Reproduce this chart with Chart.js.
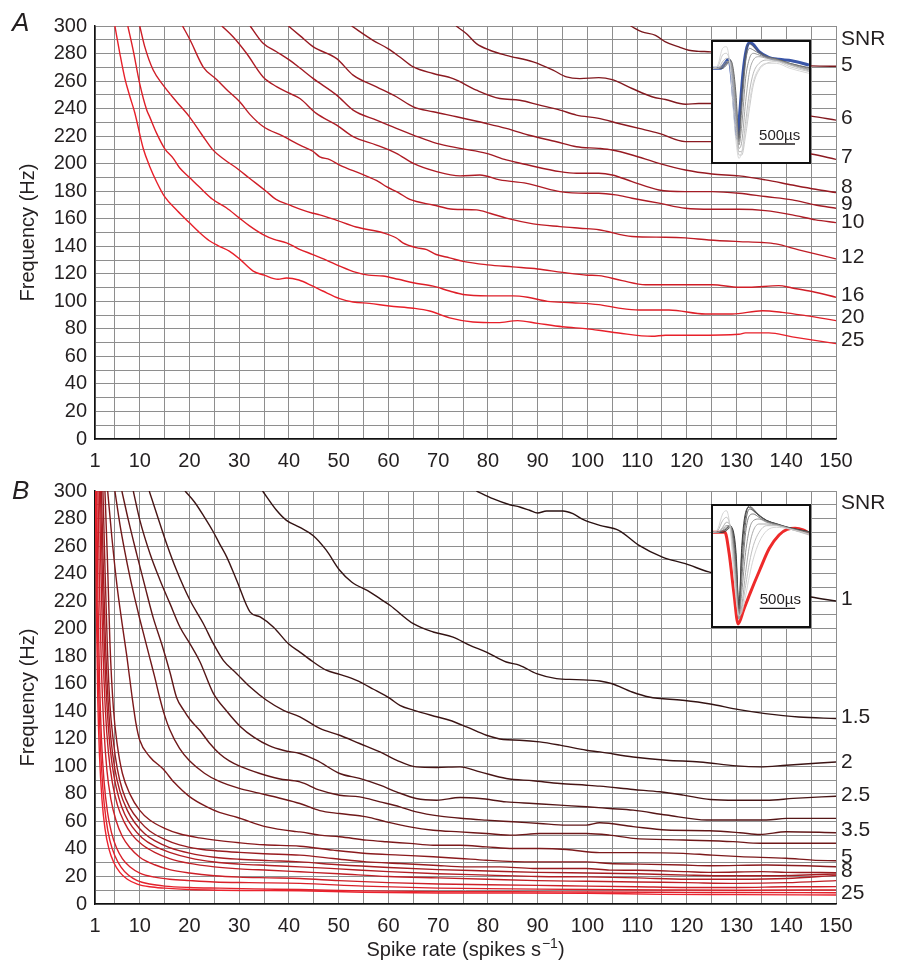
<!DOCTYPE html>
<html>
<head>
<meta charset="utf-8">
<script src="https://cdn.jsdelivr.net/npm/chart.js@4.4.1/dist/chart.umd.min.js"></script>
<style>
  body { margin: 0; background: #fff; }
  #page { position: relative; width: 898px; height: 965px; overflow: hidden; font-family: "Liberation Sans", Arial, sans-serif; }
  #chartA { position: absolute; left: 0; top: 0; }
  #chartB { position: absolute; left: 0; top: 470px; }
  .letter { position: absolute; left: 12px; font-size: 26px; line-height: 26px; font-style: italic; color: #231f20; }
  .inset { position: absolute; left: 711px; width: 96px; height: 120px; border: 2px solid #111; background: #fff; }
  .inset canvas { display: block; }
</style>
</head>
<body>
<div id="page">
  <canvas id="chartA" width="898" height="470"></canvas>
  <canvas id="chartB" width="898" height="495"></canvas>
  <div class="letter" style="top:9px">A</div>
  <div class="letter" style="top:477px">B</div>
  <div class="inset" style="top:40px"><canvas id="insetA" width="96" height="120"></canvas></div>
  <div class="inset" style="top:504px"><canvas id="insetB" width="96" height="120"></canvas></div>
</div>
<script>
// axis ticks
const xGrid = [1, 5, 10, 15, 20, 25, 30, 35, 40, 45, 50, 55, 60, 65, 70, 75, 80, 85, 90, 95, 100, 105, 110, 115, 120, 125, 130, 135, 140, 145, 150];
const xLabels = [1, 10, 20, 30, 40, 50, 60, 70, 80, 90, 100, 110, 120, 130, 140, 150];
const yGrid = [0, 10, 20, 30, 40, 50, 60, 70, 80, 90, 100, 110, 120, 130, 140, 150, 160, 170, 180, 190, 200, 210, 220, 230, 240, 250, 260, 270, 280, 290, 300];
const yLabels = [0, 20, 40, 60, 80, 100, 120, 140, 160, 180, 200, 220, 240, 260, 280, 300];

// panel A curves: [spike rate, frequency]
const snrA25 = [[5,300],[6,280],[7,262],[8,249],[9,237],[10.7,211],[12,198],[13.5,186],[15,176],[17.5,166],[20,157],[22,150],[24,144],[26,140],[28,136.5],[30,131],[32.8,122],[35,119],[37.8,116],[39.5,117],[42,115.5],[44.8,111],[46.8,107.5],[50.2,102],[52.9,99.5],[56.2,98.5],[60.2,96.6],[65,95],[68.3,93],[72.3,88],[77,85],[82,84.5],[86,86],[90,84],[95,81.5],[100,80],[102.3,79],[106.3,77],[113,74.6],[115.7,75.4],[121.7,75.4],[130.5,76.1],[131.8,77.1],[136.5,77.1],[141.2,74.2],[150,69.3]];
const snrA20 = [[7.6,300],[8.7,282],[10,258],[11.4,239],[12,234],[13.4,222],[15,211],[16.7,204],[18,197],[20,190],[22,183],[24.7,174],[27.4,168],[30,160.6],[32,155],[34.8,148.5],[37,145],[39.5,142.5],[42,138],[44.8,134],[47.5,130],[50.2,125.6],[53.5,121],[56,119],[58.9,118.4],[62,116],[65,113.5],[69,111],[72.3,107.5],[75,105],[80,104],[85,104],[88,103],[92,100],[97,99],[102.3,97.6],[106.3,95.1],[110.4,93.7],[116.4,93.7],[123.7,90.8],[129.1,90.8],[135.2,93.2],[139.2,92],[143.9,89.6],[150,86]];
const snrA16 = [[10,300],[11,285],[12.7,268],[14.7,257],[17.4,245],[20,234],[22.5,221],[24.7,210],[27,203],[29.4,197],[32,189.6],[35.4,180],[37.4,174],[40.1,170],[42.2,167],[44.8,164],[46.2,162.8],[49.5,159],[53.5,154],[58.9,149.8],[61.6,146],[62.9,142.5],[65.6,139],[67.7,137.5],[69.6,134],[72.3,131.6],[75,129],[80,126.5],[85,125],[90,123.5],[95,121],[100,119],[102.3,118.7],[107,115],[111.7,112.1],[125.1,112.1],[130.5,110.2],[132.5,110.2],[138.5,111.4],[141.2,109.7],[145.2,107.1],[150,103]];
const snrA12 = [[18.6,300],[20.1,290],[22.8,270],[25.5,261],[27.7,253],[30.1,245],[32.1,236],[34.8,227],[38.8,220],[42.2,213.5],[44.8,209],[46.2,205],[48.2,203],[50.2,199],[54.9,192],[58,187],[59.6,183.3],[62,179],[64.3,174],[69,170],[73,166.9],[77.7,166.4],[80.4,164],[83.7,160.4],[89.1,156.3],[94.5,154.3],[98.5,153.1],[102.3,152],[109,147.1],[115.7,146.6],[119.7,146.1],[124.4,144.6],[130.5,143.4],[135.2,142.7],[137.9,141.7],[142.5,137.4],[150,130.8]];
const snrA10 = [[26.5,300],[28.8,292],[31.5,280],[34.8,263],[37.5,256],[40.2,251],[42.2,247.3],[45.5,236.5],[49.6,228],[52.9,219.6],[57.6,213.5],[61.6,207.5],[65,200.2],[69.7,194.2],[74.4,191.1],[78.4,191.8],[82.4,188.2],[87.8,185.7],[90.4,183.3],[94.5,179.7],[99.8,178.5],[102.3,178.5],[105.7,177.3],[109,174.9],[114.4,171.3],[119.7,167.6],[125.1,166.9],[130.5,166.9],[135.8,165.9],[141.2,162.8],[145.9,159.2],[150,157.2]];
const snrA9 = [[32.2,300],[34.8,287.4],[37.5,281.3],[40.2,275],[42.2,269.5],[44.9,261.8],[49.6,249.8],[52.9,238.9],[57.6,231.6],[61.6,225.6],[65,220.8],[69.7,214.7],[74.4,211.1],[79.7,207.5],[83.7,202.7],[88.1,199],[94.5,194.2],[97.8,193],[102.3,193],[105,191.8],[109,187],[114.4,180.9],[119.7,179.7],[125.1,179.7],[130.5,178.5],[135.8,176.1],[141.2,173.7],[145.9,170],[150,167.6]];
const snrA8 = [[39.9,300],[42.2,293],[44.9,284.8],[49.6,276.3],[52.9,264.3],[57.6,255.8],[61.6,248.6],[65,241.3],[69,237.7],[73.7,234.1],[79.7,229.2],[83.7,225.6],[88.1,220.8],[93.8,215.9],[97.8,212.3],[102.3,211.1],[105,209.9],[109,206.3],[114.4,200.2],[119.7,195.4],[125.1,192.5],[130.5,191.1],[135.8,188.2],[141.2,184.5],[145.9,181.4],[150,179]];
const snrA7 = [[52.6,300],[56.9,289.6],[59.9,283.6],[62.3,277.5],[65,270.3],[69,265.5],[73,261.8],[77.7,253.4],[82.4,247.3],[86.4,246.1],[90.4,242.5],[94.5,238.9],[97.8,235.3],[102.3,232.9],[106.3,229.2],[110.4,225.6],[114.4,222],[119.7,216],[124.8,216],[135,212],[145,207],[150,203.1]];
const snrA6 = [[73.6,300],[75.7,294.4],[77.7,287.2],[80.4,282.4],[83.7,278.7],[89.1,273.9],[93.1,267.9],[95.8,263],[98.5,261.8],[102.3,262.5],[105,261],[109,254.6],[113,248.6],[115.7,246.6],[119.7,243.2],[122.4,243.7],[124.8,243.7],[135,239],[145,234.5],[150,231.6]];
const snrA5 = [[108.7,300],[111,295.7],[113.7,293.2],[115.7,288.4],[118.4,284.8],[120.4,282.4],[122.4,281.6],[124.8,281.2],[135,276],[145,271],[150,270.8]];

// panel B curves
const snrB1 = [[77.7,300],[81,294.4],[84.4,290],[86.4,288.4],[88.4,286],[90,284],[91.8,285.5],[95.1,285.5],[97.1,283.5],[99.2,279.2],[102.5,275],[106.3,271.4],[110.4,260.5],[115.1,252],[119.7,247.2],[124.4,241.2],[135,232],[145,223],[150,220.1]];
const snrB1_5 = [[34.7,300],[37.5,286],[39.5,278.7],[42.2,273.5],[44.9,267.5],[47.5,257],[50.2,242.4],[52.6,233.9],[56.3,226.6],[58.3,221.8],[60.3,217],[65,203.6],[69,197.6],[73,193.9],[76.4,187.9],[79.7,183],[83.7,175.8],[86.4,173.4],[89.8,167.3],[93.8,163.7],[97.8,163],[102.5,162],[105,160],[109,154],[112.4,150.4],[119.1,148],[124.4,145.5],[130.5,141.2],[135.8,138.3],[142.5,135.8],[150,134.7]];
const snrB2 = [[19.1,300],[21,292],[23,281],[24.8,270.2],[26,262],[27.5,252],[29.5,235],[32.2,212],[34.2,208.5],[36.9,201],[39.9,189],[42.2,183],[44.9,175.8],[47.5,169.8],[50.2,166.8],[53.6,162.5],[57,156],[60.3,149.3],[62.3,144.3],[65,140.8],[69.7,136],[72.3,133.5],[75.7,128.7],[79.7,122.6],[83.1,119.5],[86.4,119],[90.4,117.8],[94.5,115.4],[99.8,111.7],[102.5,110.5],[109.2,106.8],[115.9,104.4],[122.6,103.2],[130,100.3],[134.7,99.6],[140,100.8],[150,103.2]];
const snrB2_5 = [[11.9,300],[13.4,283.5],[15.4,261.7],[17.4,242.4],[20.1,220.6],[22.8,203.6],[24.8,189.1],[26.8,177],[29.5,167.3],[32.2,157.6],[35.5,148],[38.9,140.7],[42.2,136],[46.2,127.5],[50.2,122.6],[54.2,116.6],[58.3,110.5],[61.6,104.5],[65.6,99.6],[69.7,99.2],[74.4,99.6],[78.4,96],[83.7,91.2],[89.1,89.5],[94.5,87.5],[99.8,86.3],[102.5,85.6],[109.2,83.2],[114.6,81.5],[119.3,79.1],[124.7,75.9],[130,75.4],[136,75.4],[141.4,76.7],[150,78.3]];
const snrB3 = [[8.7,300],[10,279],[12.1,254],[14.1,235],[16.1,218],[18.1,201],[20.1,189],[22.1,176],[24.8,153],[27.5,140],[30.2,129],[33,121],[36,115],[39,111.5],[42.2,109.3],[45.5,104.5],[50.2,94.8],[54.2,91.2],[58.3,86.3],[61.6,81.5],[65.6,76.6],[69.7,75.4],[74.4,77.4],[78.4,76.6],[83.7,74.2],[89.1,73],[94.5,71.8],[99.8,70.6],[104.5,69.4],[109.2,68.2],[115.9,64.6],[124,61],[136,61],[140,62.2],[150,62.2]];
const snrB3_5 = [[6.4,300],[7.7,279],[9.4,254],[11.1,230],[12.7,208],[14.4,189],[16.1,168],[17.4,150],[18.8,141],[20.1,134],[22.1,126],[24,117],[26.1,109],[28,104],[30.2,100],[34,95],[38,91],[42.2,88.7],[46.2,82.7],[50.2,79],[54.2,77.8],[58.3,74.2],[62.3,70.6],[65.6,66.9],[70.4,63.8],[75,62.1],[79.7,60.9],[85.1,59.7],[90.4,58.5],[95.8,57.3],[99.8,57.3],[102.5,59],[109.2,56.2],[115.9,53.7],[124.6,53.2],[130.7,51.8],[134.7,50.5],[140,52.5],[150,51.8]];
const snrB4 = [[5,300],[6,276],[7,256],[8,238],[9,222],[10,207],[11,193],[12,179],[13,165],[14,150],[15,137],[16,127],[18,113],[20,104],[23,95],[26,89],[30,84],[34,80.5],[38,77],[42.2,73],[46.2,67.8],[50.2,65.7],[55.6,63.3],[59.6,59.7],[64.3,56],[69,53.6],[74.4,52.4],[79.7,51.2],[85.1,50],[90.4,51.2],[99.8,51.2],[104.5,50],[109.2,47.7],[119.3,46.5],[129.3,45.3],[134.7,44.1],[150,44.1]];
const snrB5 = [[3.55,300],[4.4,266],[5.4,232],[6.4,205],[7.4,180],[8.4,152],[9.2,132],[10,119],[12,107],[14.7,98],[17,88],[20,78],[23.5,70.5],[26,66.5],[29.5,63],[35.5,56],[40.9,52.8],[42.2,52.4],[46.2,50],[50.2,48.8],[55.6,46.4],[59.6,45.2],[64.3,44],[69,42.7],[74.4,42.7],[79.7,41.5],[85.1,40.3],[90.4,40.3],[95.8,39.6],[102.5,37.3],[109.2,37.3],[119.3,36.8],[124.6,35.6],[130.7,34.4],[140,33.2],[145.3,31.9],[150,31.4]];
const snrB6 = [[3.0,300],[3.5,250],[4.0,190],[4.7,142],[5.5,115],[6.5,95],[8,80],[10,68],[12,61],[15,55],[18,51],[22,48],[26,46],[30,44.5],[35,43],[42.2,42],[48.9,39.1],[55.6,36.7],[62.3,35.5],[69,34.3],[74.4,33.1],[79.7,31.8],[89.1,30.6],[99.8,30.6],[104.5,29.4],[110.6,29],[119.3,28.3],[124.6,27.8],[136,28.3],[150,27.1]];
const snrB7 = [[2.6,300],[3.0,245],[3.5,185],[4.0,145],[4.7,118],[5.5,98],[6.5,83],[8,70],[10,60],[12,53],[15,47],[18,43],[22,40],[26,38.5],[30,37.5],[35,36.5],[42.2,35.5],[48.9,33.1],[55.6,30.6],[62.3,29.4],[69,28.2],[75.7,27],[82.4,27],[89.1,25.8],[99.8,25.8],[104.5,24.6],[110,24.5],[120,23.5],[125,23],[135,23.5],[140,23],[150,22.8]];
const snrB8 = [[2.3,300],[2.7,240],[3.1,190],[3.6,150],[4.2,120],[5,98],[6,82],[7.5,68],[9,59],[11,51],[13,46],[16,41],[20,37],[25,34],[30,32.5],[36,31.5],[42.2,30.6],[50,28.5],[60,26.5],[70,25],[80,24],[90,23],[100,22.5],[110,22],[120,21],[128,20.5],[136,20.5],[150,21.8]];
const snrB9 = [[2.1,300],[2.5,235],[2.9,185],[3.4,145],[4,115],[4.8,93],[5.8,77],[7,65],[8.5,56],[10.5,48],[13,42],[16,37.5],[20,33.5],[25,30.5],[30,29],[36,28],[42.2,27],[50,25.5],[60,23.5],[70,22],[80,21],[90,20],[100,19.7],[110,19],[120,18],[130,18],[140,18.5],[150,20.8]];
const snrB10 = [[1.9,300],[2.2,240],[2.6,185],[3.1,140],[3.7,110],[4.5,88],[5.5,72],[6.8,60],[8.5,50],[10.5,43],[13,37.5],[16,33],[20,29.5],[25,27],[30,25.5],[36,24.5],[42.2,23.4],[50,22],[60,20],[70,19],[80,18],[90,17],[100,16.5],[110,16],[120,15.5],[130,15],[140,15.5],[150,17]];
const snrB12 = [[1.6,300],[1.9,230],[2.3,170],[2.8,127],[3.4,97],[4.2,76],[5.2,61],[6.5,49],[8,41],[10,34],[13,28.5],[16,25],[20,22.5],[25,20.5],[30,19.5],[36,19],[42.2,18.5],[50,17],[60,15.5],[70,14.5],[80,14],[90,13.5],[100,13],[110,12.5],[120,12],[130,12],[140,12.5],[150,12.6]];
const snrB16 = [[1.35,300],[1.6,220],[1.9,165],[2.3,120],[2.8,90],[3.5,67],[4.3,52],[5.3,41],[6.5,33],[8,27],[10,22.5],[13,19.5],[16,18],[20,17],[25,16],[32,15.5],[42.2,15],[55,13],[70,11.5],[85,11],[100,10.5],[115,10.2],[130,10],[150,10.2]];
const snrB20 = [[1.2,300],[1.4,220],[1.7,160],[2.1,115],[2.6,83],[3.2,62],[4,46],[5,35],[6.2,27],[7.7,21],[9.5,17],[12,14.5],[15,13],[20,12],[26,11.5],[33,11],[42.2,10.5],[55,9.5],[70,9],[85,9],[100,8.7],[115,8.5],[130,8.3],[150,8.2]];
const snrB25 = [[1.1,300],[1.3,210],[1.55,150],[1.9,108],[2.4,76],[3,55],[3.8,40],[4.8,30],[6,23],[7.5,18],[9.5,14.5],[12,12.5],[15,11.5],[20,10.5],[26,10],[33,9.8],[42.2,9.6],[55,8.5],[70,8],[85,8],[100,7.8],[115,7],[130,6.8],[150,6.5]];

// right-hand labels and where they sit on the frequency axis
const sideTextA = ['SNR', '5', '6', '7', '8', '9', '10', '12', '16', '20', '25'];
const sideValA = [290.3, 271.5, 233, 205, 183.2, 170.7, 157.8, 132.4, 104.7, 88.5, 71.5];
const sideTextB = ['SNR', '1', '1.5', '2', '2.5', '3.5', '5', '8', '25'];
const sideValB = [290.8, 221.2, 136, 103.3, 79.1, 53.7, 34.3, 23.5, 8.2];

// inset waveforms (time 0-100, amplitude)
const waveT = [0, 5, 10, 14, 18, 21, 24, 27, 30, 34, 38, 42, 48, 56, 66, 80, 100];
const grayA = [
  [0, 1, 6, 6.5, 0, -12, -22, -27, -25, -18, -10, -4, 0, 1.5, 1.5, 0, -1.5],
  [0, 0.5, 4, 4.5, 1, -8, -19, -26, -26, -20, -12, -5, -0.5, 1.5, 2, 0.5, -1],
  [0, 0, 2, 3, 1.5, -5, -17, -25, -25, -16, -7, -1.5, 1.5, 2.5, 2.3, 1, -0.8],
  [0, 0, 1, 2, 2, -3, -14, -24, -22, -10, -1, 2.5, 3.5, 3, 2.5, 1.2, -0.5],
  [0, 0, 0.5, 1.5, 2, -2, -12, -23, -17, -3, 3, 4.5, 4, 3.2, 2.6, 1.3, -0.3],
  [0, 0, 0.5, 1.5, 2.5, -1, -10, -22, -12, 2, 6, 5.5, 4.5, 3.5, 2.8, 1.5, 0],
  [0, 0, 0, 1, 2.5, 0, -8, -21, -8, 4, 7.5, 6.5, 5, 3.5, 2.8, 1.5, 0.2]
];
const grayB = [
  [0, 1, 5.5, 6.5, 1, -10, -20, -25, -24, -19, -13, -8, -3, 0.5, 1.5, 1, -0.5],
  [0, 0.5, 3.5, 4.5, 1.5, -7, -18, -25, -23, -16, -9, -4, 0, 2, 2, 1, -0.8],
  [0, 0, 1.5, 3, 2, -5, -16, -26, -22, -12, -4, 0.5, 2.5, 2.5, 2.2, 1, -0.5],
  [0, 0, 1, 2, 2, -3, -14, -26, -18, -6, 1, 3.5, 4, 3, 2.3, 1.2, -0.3],
  [0, 0, 0.5, 1.5, 2, -2, -12, -25, -14, 0, 5, 5.5, 4.5, 3.2, 2.4, 1.2, 0],
  [0, 0, 0.5, 1, 2, -1, -10, -24, -10, 3, 7, 6.5, 5, 3.5, 2.5, 1.3, 0],
  [0, 0, 0, 1, 2, 0, -8, -23, -6, 5, 8, 7, 5.2, 3.6, 2.6, 1.4, 0.2],
  [0, 0, 0, 0.5, 1.5, 0.5, -6, -22, -4, 6, 7.5, 6.5, 5, 3.5, 2.5, 1.3, 0.2]
];
const blueT = [0, 7.5, 12.5, 16, 18.3, 21, 23.7, 25.4, 27.8, 31.2, 34.6, 38, 41.4, 48, 58, 68.5, 82, 100];
const blueA = [0, 0, 1.5, 2.7, 0.5, -7.5, -16.5, -21, -13.5, -1.5, 5.5, 7.7, 7.3, 5, 3.3, 2.7, 2.3, 1];
const redT = [0, 12.4, 16.8, 21.8, 26.2, 31.9, 38.6, 48.7, 58.7, 68.8, 77.2, 85.6, 93.9, 100];
const redA = [0, 0, -6.3, -18.3, -27.5, -23.3, -18.3, -11.3, -4.8, -0.8, 0.9, 1.2, 0.7, -0.3];
const scaleBarA = [[48.1, -22.7], [85.4, -22.7]];
const scaleBarB = [[48.7, -22.8], [85.6, -22.8]];

// colours
const colorsA = ['#e8202a', '#de1f28', '#d01e27', '#bf1d26', '#ae1c25', '#a21b24', '#971a22', '#8c1a21', '#82191f', '#7a181d'];
const colorsB = ['#2a1212', '#331313', '#3c1414', '#481515', '#551617', '#621718', '#6f1819', '#7c191b', '#8a1a1d', '#981b1f', '#a61c21', '#b31d23', '#c01e25', '#cd1f27', '#d92029', '#e3212b', '#ec222d'];
const grayColorsA = ['#d4d4d4', '#c4c4c4', '#b2b2b2', '#9e9e9e', '#888888', '#707070', '#555555'];
const grayColorsB = ['#cfcfcf', '#b8b8b8', '#a0a0a0', '#888888', '#6e6e6e', '#555555', '#3c3c3c', '#2a2a2a'];

const seriesA = [snrA25, snrA20, snrA16, snrA12, snrA10, snrA9, snrA8, snrA7, snrA6, snrA5];
const seriesB = [snrB1, snrB1_5, snrB2, snrB2_5, snrB3, snrB3_5, snrB4, snrB5, snrB6, snrB7, snrB8, snrB9, snrB10, snrB12, snrB16, snrB20, snrB25];

const fontFamily = '"Liberation Sans", Arial, Helvetica, sans-serif';
Chart.defaults.font.family = fontFamily;
Chart.defaults.color = '#231f20';

const gridColor = '#8e8e8e';
const textColor = '#231f20';

// labels to the right of the plot, and the x title with its superscript
const sideLabels = {
  id: 'sideLabels',
  afterDraw(chart, args, opts) {
    const { ctx, chartArea, scales } = chart;
    ctx.save();
    ctx.font = '21px ' + fontFamily;
    ctx.fillStyle = textColor;
    ctx.textBaseline = 'middle';
    ctx.textAlign = 'left';
    opts.texts.forEach((t, i) => {
      ctx.fillText(t, chartArea.right + 5, scales.y.getPixelForValue(opts.values[i]));
    });
    if (opts.xTitle) {
      const main = 'Spike rate (spikes s', sup = '\u22121', close = ')';
      ctx.font = '20px ' + fontFamily;
      const w1 = ctx.measureText(main).width, w3 = ctx.measureText(close).width;
      ctx.font = '14px ' + fontFamily;
      const w2 = ctx.measureText(sup).width + 1;
      let x = (chartArea.left + chartArea.right) / 2 - (w1 + w2 + w3) / 2;
      const base = chartArea.bottom + 52;
      ctx.textBaseline = 'alphabetic';
      ctx.font = '20px ' + fontFamily;
      ctx.fillText(main, x, base);
      ctx.font = '14px ' + fontFamily;
      ctx.fillText(sup, x + w1 + 1, base - 8);
      ctx.font = '20px ' + fontFamily;
      ctx.fillText(close, x + w1 + w2, base);
    }
    ctx.restore();
  }
};

function toPoints(arr) {
  return arr.map(p => ({ x: p[0], y: p[1] }));
}

function makeMain(id, series, colors, texts, values, padTop, xHeight, showTitle) {
  const datasets = series.map((s, i) => ({
    data: toPoints(s),
    borderColor: colors[i],
    borderWidth: 1.4,
    pointRadius: 0,
    cubicInterpolationMode: 'monotone',
    fill: false
  }));
  return new Chart(document.getElementById(id), {
    type: 'line',
    data: { datasets: datasets },
    options: {
      responsive: false,
      animation: false,
      layout: { padding: { top: padTop, right: 62, left: 0, bottom: 0 } },
      scales: {
        x: {
          type: 'linear', min: 1, max: 150,
          afterBuildTicks: s => { s.ticks = xGrid.map(v => ({ value: v })); },
          afterFit: s => { s.height = xHeight; },
          grid: { color: gridColor, lineWidth: 1, drawTicks: false },
          border: { color: '#111', width: 1.5 },
          ticks: {
            autoSkip: false, maxRotation: 0, padding: 10, color: textColor,
            font: { size: 20 },
            callback: v => xLabels.includes(v) ? String(v) : ''
          }
        },
        y: {
          type: 'linear', min: 0, max: 300,
          afterBuildTicks: s => { s.ticks = yGrid.map(v => ({ value: v })); },
          afterFit: s => { s.width = 95; },
          grid: { color: gridColor, lineWidth: 1, drawTicks: false },
          border: { color: '#111', width: 1.5 },
          ticks: {
            autoSkip: false, padding: 8, color: textColor,
            font: { size: 20 },
            callback: v => yLabels.includes(v) ? String(v) : ''
          },
          title: {
            display: true, text: 'Frequency (Hz)', color: textColor,
            font: { size: 20 }, padding: { top: 16, bottom: 0 }
          }
        }
      },
      plugins: {
        legend: { display: false },
        tooltip: { enabled: false },
        sideLabels: { texts: texts, values: values, xTitle: showTitle }
      }
    },
    plugins: [sideLabels]
  });
}

makeMain('chartA', seriesA, colorsA, sideTextA, sideValA, 26, 31, false);
makeMain('chartB', seriesB, colorsB, sideTextB, sideValB, 21, 61, true);

// scale bar text inside insets
const barText = {
  id: 'barText',
  afterDatasetsDraw(chart, args, opts) {
    const { ctx, scales } = chart;
    ctx.save();
    ctx.font = '15px ' + fontFamily;
    ctx.fillStyle = textColor;
    ctx.textBaseline = 'alphabetic';
    ctx.fillText('500\u00B5s', scales.x.getPixelForValue(opts.at[0]), scales.y.getPixelForValue(opts.at[1]));
    ctx.restore();
  }
};

function makeInset(id, grays, grayColors, hiT, hiA, hiColor, bar, textAt) {
  const datasets = grays.map((tr, i) => ({
    data: waveT.map((t, k) => ({ x: t, y: tr[k] })),
    borderColor: grayColors[i], borderWidth: 0.9, pointRadius: 0,
    cubicInterpolationMode: 'monotone'
  }));
  datasets.push({
    data: hiT.map((t, k) => ({ x: t, y: hiA[k] })),
    borderColor: hiColor, borderWidth: 3, pointRadius: 0,
    cubicInterpolationMode: 'monotone'
  });
  datasets.push({ data: toPoints(bar), borderColor: textColor, borderWidth: 1.3, pointRadius: 0 });
  return new Chart(document.getElementById(id), {
    type: 'line',
    data: { datasets: datasets },
    options: {
      responsive: false,
      animation: false,
      layout: { padding: 0 },
      scales: {
        x: { type: 'linear', min: 0, max: 100, display: false },
        y: { type: 'linear', min: -28.1, max: 7.9, display: false }
      },
      plugins: {
        legend: { display: false },
        tooltip: { enabled: false },
        barText: { at: textAt }
      }
    },
    plugins: [barText]
  });
}

makeInset('insetA', grayA, grayColorsA, blueT, blueA, '#3a56a8', scaleBarA, [48, -21.4]);
makeInset('insetB', grayB, grayColorsB, redT, redA, '#ee2a2a', scaleBarB, [48.7, -21.6]);
</script>
</body>
</html>
